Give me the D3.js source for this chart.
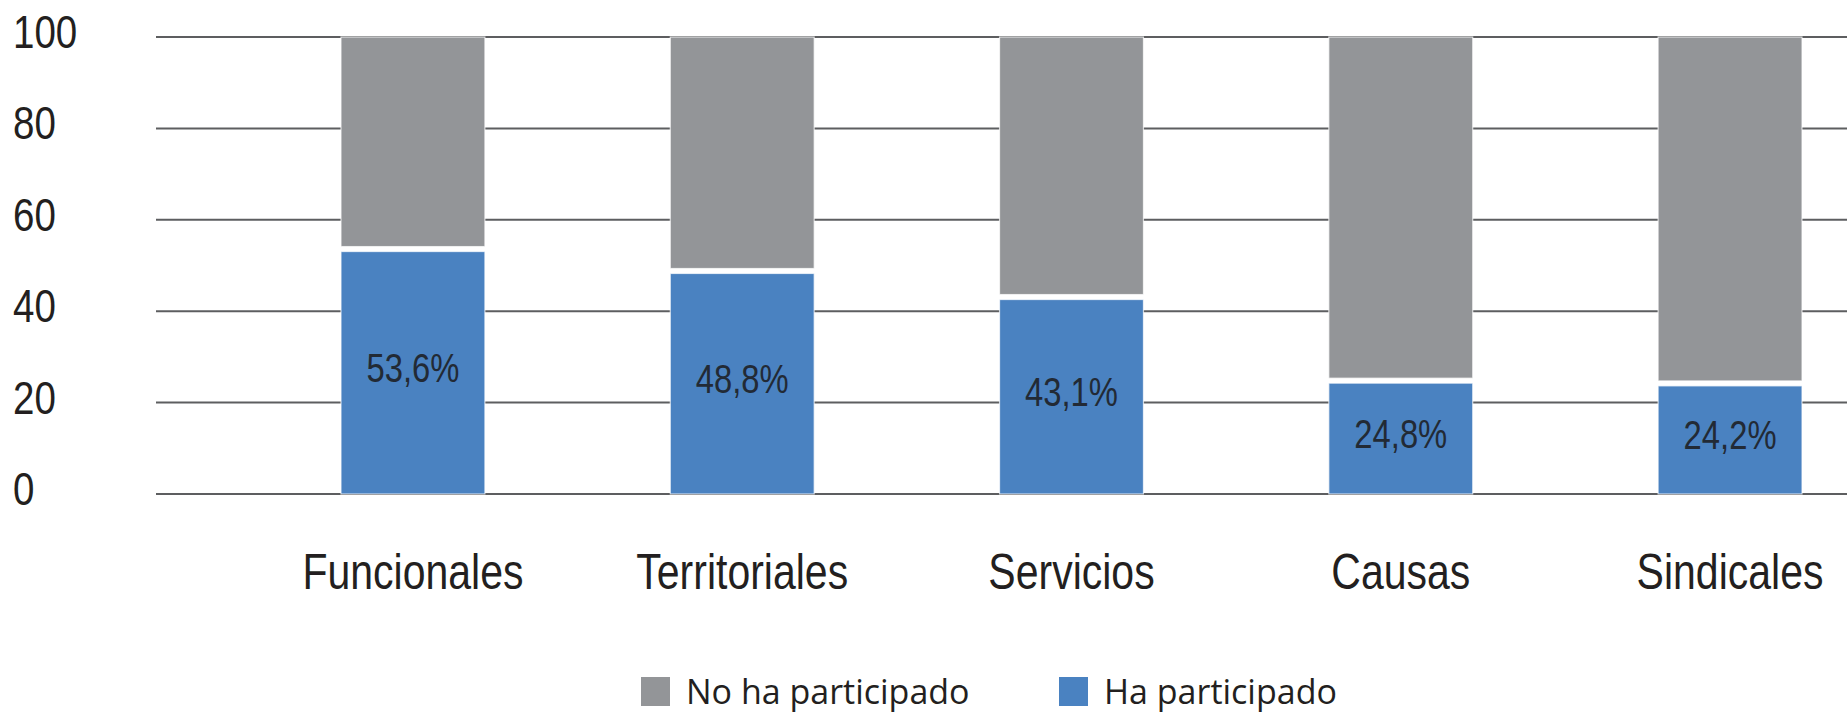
<!DOCTYPE html>
<html>
<head>
<meta charset="utf-8">
<script src="https://cdn.jsdelivr.net/npm/d3@7"></script>
<style>
  html, body { margin: 0; padding: 0; background: #ffffff; }
  svg { display: block; }
</style>
</head>
<body>
<svg id="chart" width="1847" height="714"></svg>
<script>
// ---- Data ----
const categories = ["Funcionales", "Territoriales", "Servicios", "Causas", "Sindicales"];
const haParticipado = [53.6, 48.8, 43.1, 24.8, 24.2];
const noHaParticipado = [46.4, 51.2, 56.9, 75.2, 75.8];
const yTicks = [0, 20, 40, 60, 80, 100];
const seriesNames = ["No ha participado", "Ha participado"];

// ---- Layout / style ----
const W = 1847, H = 714;
const colors = { "Ha participado": "#4a82c1", "No ha participado": "#939598" };
const textColor = "#231f20";
const labelFont = "'Liberation Sans', Arial, sans-serif";
const narrow = 0.82; // horizontal compression to mimic a narrow face
const legendFont = "'Open Sans', 'Noto Sans', sans-serif";
const gap = 2.5;

const svg = d3.select("#chart");

const x = d3.scaleBand()
  .domain(categories)
  .range([341, 1802])
  .paddingInner(0.563)
  .paddingOuter(0);

const y = d3.scaleLinear().domain([0, 100]).range([494, 37]);

const rows = categories.map((c, i) => ({
  cat: c,
  "Ha participado": haParticipado[i],
  "No ha participado": noHaParticipado[i]
}));
const stacked = d3.stack().keys(["Ha participado", "No ha participado"])(rows);

// ---- Gridlines ----
svg.append("g")
  .selectAll("line")
  .data(yTicks)
  .join("line")
  .attr("x1", 156)
  .attr("x2", W)
  .attr("y1", d => y(d))
  .attr("y2", d => y(d))
  .attr("stroke", "#5d5e60")
  .attr("stroke-width", 2);

// ---- Y tick labels ----
svg.append("g")
  .selectAll("text")
  .data(yTicks)
  .join("text")
  .attr("transform", d => `translate(13,${y(d) + 11}) scale(${narrow},1)`)
  .attr("text-anchor", "start")
  .attr("font-family", labelFont)
  .attr("font-size", 47)
  .attr("fill", textColor)
  .text(d => d);

// ---- Bars ----
const barG = svg.append("g");
stacked.forEach(layer => {
  const key = layer.key;
  const isHa = key === "Ha participado";
  barG.append("g")
    .selectAll("rect")
    .data(layer)
    .join("rect")
    .attr("x", d => x(d.data.cat))
    .attr("width", x.bandwidth())
    .attr("y", d => isHa ? y(d[1]) + gap : y(d[1]))
    .attr("height", d => {
      const top = isHa ? y(d[1]) + gap : y(d[1]);
      const bottom = isHa ? y(d[0]) : y(d[0]) - gap;
      return Math.max(0, bottom - top);
    })
    .attr("fill", colors[key])
    .attr("stroke", "rgba(255,255,255,0.7)")
    .attr("stroke-width", 1.2);
});

// ---- Value labels ----
const locale = d3.formatLocale({ decimal: ",", thousands: ".", grouping: [3], currency: ["", "€"] });
const fmt = locale.format(".1f");
svg.append("g")
  .selectAll("text")
  .data(stacked[0])
  .join("text")
  .attr("transform", d => {
    const cx = x(d.data.cat) + x.bandwidth() / 2;
    const cy = (y(d[1]) + gap + y(0)) / 2 - 5 + 14;
    return `translate(${cx},${cy}) scale(${narrow},1)`;
  })
  .attr("text-anchor", "middle")
  .attr("font-family", labelFont)
  .attr("font-size", 40)
  .attr("fill", "#222a35")
  .text(d => fmt(d.data["Ha participado"]) + "%");

// ---- Category labels ----
svg.append("g")
  .selectAll("text")
  .data(categories)
  .join("text")
  .attr("transform", d => `translate(${x(d) + x.bandwidth() / 2},589) scale(${narrow},1)`)
  .attr("text-anchor", "middle")
  .attr("font-family", labelFont)
  .attr("font-size", 50)
  .attr("fill", textColor)
  .text(d => d);

// ---- Legend ----
const legendX = [641, 1059];
const legend = svg.append("g");
seriesNames.forEach((name, i) => {
  const g = legend.append("g").attr("transform", `translate(${legendX[i]},0)`);
  g.append("rect")
    .attr("x", 0).attr("y", 677)
    .attr("width", 29).attr("height", 29)
    .attr("fill", colors[name]);
  g.append("text")
    .attr("x", 45).attr("y", 704)
    .attr("font-family", legendFont)
    .attr("font-size", 34)
    .attr("fill", textColor)
    .text(name);
});
</script>
</body>
</html>
